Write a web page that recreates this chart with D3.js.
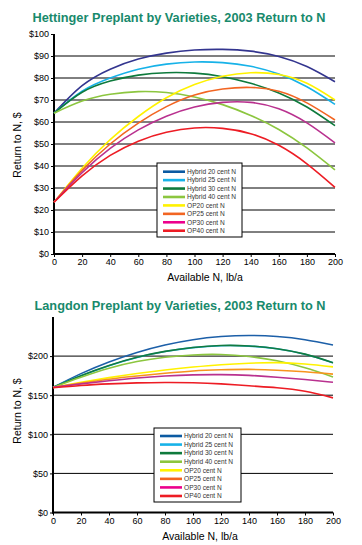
<!DOCTYPE html>
<html>
<head>
<meta charset="utf-8">
<script src="https://cdn.jsdelivr.net/npm/d3@7"></script>
<style>
  body { margin: 0; background: #fff; }
  svg { display: block; font-family: "Liberation Sans", Arial, sans-serif; }
  .tick text { font-size: 9px; fill: #000; }
</style>
</head>
<body>
<div id="chart"></div>
<script>
var svgWidth = 362;
var svgHeight = 545;

// available N, lb/a
var nLevels = [0, 20, 40, 60, 80, 100, 120, 140, 160, 180, 200];

var seriesNames = ["Hybrid 20 cent N", "Hybrid 25 cent N", "Hybrid 30 cent N", "Hybrid 40 cent N",
  "OP20 cent N", "OP25 cent N", "OP30 cent N", "OP40 cent N"];

// legend swatch colours
var legendColors = ["#0b5aa2", "#17b2e8", "#0e7a3c", "#8cc63f", "#fff200", "#f26522", "#ec008c", "#ed1c24"];

// Hettinger, return to N ($)
var hetH20 = [64, 76.5, 84, 88.6, 91.3, 92.7, 93, 92.2, 89.8, 85.2, 78.3];
var hetH25 = [64, 74, 80, 84, 86.3, 87.3, 87, 85.3, 81.8, 76, 68];
var hetH30 = [64, 73.5, 78.6, 81.3, 82.4, 82.2, 80.6, 77.6, 73.2, 66.8, 58.3];
var hetH40 = [64, 69.5, 72.6, 73.8, 73.4, 71.4, 67.9, 63, 56.6, 48.2, 38.2];
var hetOP20 = [23.5, 39, 52, 62.5, 71, 77, 80.8, 82.4, 81.6, 77.6, 70];
var hetOP25 = [23.5, 38, 50, 59.5, 67, 72.3, 75, 75.7, 74, 68.7, 60.9];
var hetOP30 = [23.5, 37, 48, 56.4, 62.6, 66.8, 68.9, 68.9, 66, 59.6, 50.5];
var hetOP40 = [23.5, 35.5, 44.8, 51.3, 55.3, 57.3, 57.1, 54.7, 49.4, 41, 30.3];
var hetColors = ["#33358f", "#17b2e8", "#0e7a3c", "#8cc63f", "#fff200", "#f26522", "#b9318f", "#ed1c24"];
var hetTicks = [0, 10, 20, 30, 40, 50, 60, 70, 80, 90, 100];

// Langdon, return to N ($)
var lanH20 = [160, 177.6, 192.5, 204.7, 214.2, 221, 225, 226.4, 225, 221, 214.2];
var lanH25 = [160, 174.8, 187.8, 198.3, 205.8, 210.8, 213.3, 212.8, 209.3, 202.3, 191.4];
var lanH30 = [160, 175, 188, 198.5, 206, 211, 213.5, 213, 209.5, 202.5, 191.6];
var lanH40 = [160, 173, 184.5, 193, 198.5, 201.5, 202, 199.5, 194, 185, 173.4];
var lanOP20 = [160, 166.5, 172.5, 177.8, 182.3, 186, 189, 190.9, 191.6, 189.9, 186.2];
var lanOP25 = [160, 165.5, 170.5, 174.5, 178, 181, 182.5, 183, 182, 180, 177];
var lanOP30 = [160, 164.5, 168.5, 172, 174.5, 176, 176.3, 175.3, 173, 170, 166.5];
var lanOP40 = [159.5, 162.5, 164.5, 165.8, 166.3, 166, 164.5, 162, 159.5, 155, 146.6];
var lanColors = ["#1c5fa8", "#17b2e8", "#137a3f", "#8cc63f", "#fff200", "#f7941d", "#b9318f", "#ed1c24"];
var lanTicks = [0, 50, 100, 150, 200];

var svg = d3.select("#chart")
  .append("svg")
  .attr("width", svgWidth)
  .attr("height", svgHeight);

function drawChart(opts) {
  var g = svg.append("g");

  var xScale = d3.scaleLinear().domain([0, 200]).range([opts.left, opts.right]);
  var yScale = d3.scaleLinear().domain([0, opts.yMax]).range([opts.bottom, opts.top]);

  // title
  g.append("text")
    .attr("x", opts.titleX)
    .attr("y", opts.titleY)
    .attr("text-anchor", "middle")
    .attr("font-size", "13.5px")
    .attr("font-weight", "bold")
    .attr("fill", "#188a6c")
    .attr("textLength", opts.titleLen)
    .attr("lengthAdjust", "spacingAndGlyphs")
    .text(opts.title);

  // gridlines
  g.selectAll(".grid")
    .data(opts.gridTicks)
    .enter()
    .append("line")
    .attr("x1", opts.left)
    .attr("x2", opts.right)
    .attr("y1", d => yScale(d))
    .attr("y2", d => yScale(d))
    .attr("stroke", "#000")
    .attr("stroke-width", 1);

  // axes
  var leftAxis = d3.axisLeft(yScale)
    .tickValues(opts.yTicks)
    .tickSize(3)
    .tickPadding(2)
    .tickFormat(d => "$" + d);
  var yAxis = g.append("g")
    .attr("transform", `translate(${opts.left}, 0)`)
    .call(leftAxis);
  yAxis.select(".domain").remove();

  var bottomAxis = d3.axisBottom(xScale)
    .tickValues(nLevels)
    .tickSize(3)
    .tickPadding(2);
  var xAxis = g.append("g")
    .attr("transform", `translate(0, ${opts.bottom})`)
    .call(bottomAxis);
  xAxis.select(".domain").remove();

  g.append("line")
    .attr("x1", opts.left).attr("x2", opts.left)
    .attr("y1", opts.top).attr("y2", opts.bottom + 1)
    .attr("stroke", "#000").attr("stroke-width", 2);
  g.append("line")
    .attr("x1", opts.left - 1).attr("x2", opts.right)
    .attr("y1", opts.bottom).attr("y2", opts.bottom)
    .attr("stroke", "#000").attr("stroke-width", 2);

  // axis titles
  g.append("text")
    .attr("x", opts.xTitleX)
    .attr("y", opts.xTitleY)
    .attr("text-anchor", "middle")
    .attr("font-size", "10.5px")
    .text("Available N, lb/a");

  g.append("text")
    .attr("transform", `translate(21, ${opts.yTitleY}) rotate(-90)`)
    .attr("text-anchor", "middle")
    .attr("font-size", "10.5px")
    .text("Return to N, $");

  // curves
  var line = d3.line()
    .x((d, i) => xScale(nLevels[i]))
    .y(d => yScale(d))
    .curve(d3.curveNatural);

  g.selectAll(".curve")
    .data(opts.series)
    .enter()
    .append("path")
    .attr("d", d => line(d))
    .attr("fill", "none")
    .attr("stroke", (d, i) => opts.colors[i])
    .attr("stroke-width", 1.6);

  // legend
  var lg = g.append("g")
    .attr("transform", `translate(${opts.legX}, ${opts.legY})`);
  lg.append("rect")
    .attr("x", 0).attr("y", 0)
    .attr("width", opts.legW).attr("height", opts.legH)
    .attr("fill", "#fff")
    .attr("stroke", "#000")
    .attr("stroke-width", 1);

  var items = lg.selectAll(".item")
    .data(seriesNames)
    .enter()
    .append("g")
    .attr("transform", (d, i) => `translate(0, ${opts.legFirst + i * opts.legStep})`);
  items.append("line")
    .attr("x1", 6).attr("x2", 28)
    .attr("y1", 0).attr("y2", 0)
    .attr("stroke", (d, i) => legendColors[i])
    .attr("stroke-width", 2.6);
  items.append("text")
    .attr("x", 30)
    .attr("y", 2.3)
    .attr("font-size", "6.6px")
    .attr("fill", "#333")
    .text(d => d);
}

drawChart({
  title: "Hettinger Preplant by Varieties, 2003 Return to N",
  titleX: 179, titleY: 22, titleLen: 293,
  left: 54, right: 335, top: 34, bottom: 254,
  yMax: 100,
  yTicks: hetTicks,
  gridTicks: hetTicks.slice(1, -1),
  xTitleX: 205, xTitleY: 281,
  yTitleY: 145,
  series: [hetH20, hetH25, hetH30, hetH40, hetOP20, hetOP25, hetOP30, hetOP40],
  colors: hetColors,
  legX: 157, legY: 163, legW: 85, legH: 74,
  legFirst: 8.7, legStep: 8.43
});

drawChart({
  title: "Langdon Preplant by Varieties, 2003 Return to N",
  titleX: 180, titleY: 310, titleLen: 291,
  left: 53, right: 333, top: 317, bottom: 512.5,
  yMax: 250,
  yTicks: lanTicks,
  gridTicks: lanTicks.slice(1),
  xTitleX: 200, xTitleY: 540,
  yTitleY: 411,
  series: [lanH20, lanH25, lanH30, lanH40, lanOP20, lanOP25, lanOP30, lanOP40],
  colors: lanColors,
  legX: 154, legY: 428, legW: 87, legH: 74,
  legFirst: 8, legStep: 8.57
});
</script>
</body>
</html>
